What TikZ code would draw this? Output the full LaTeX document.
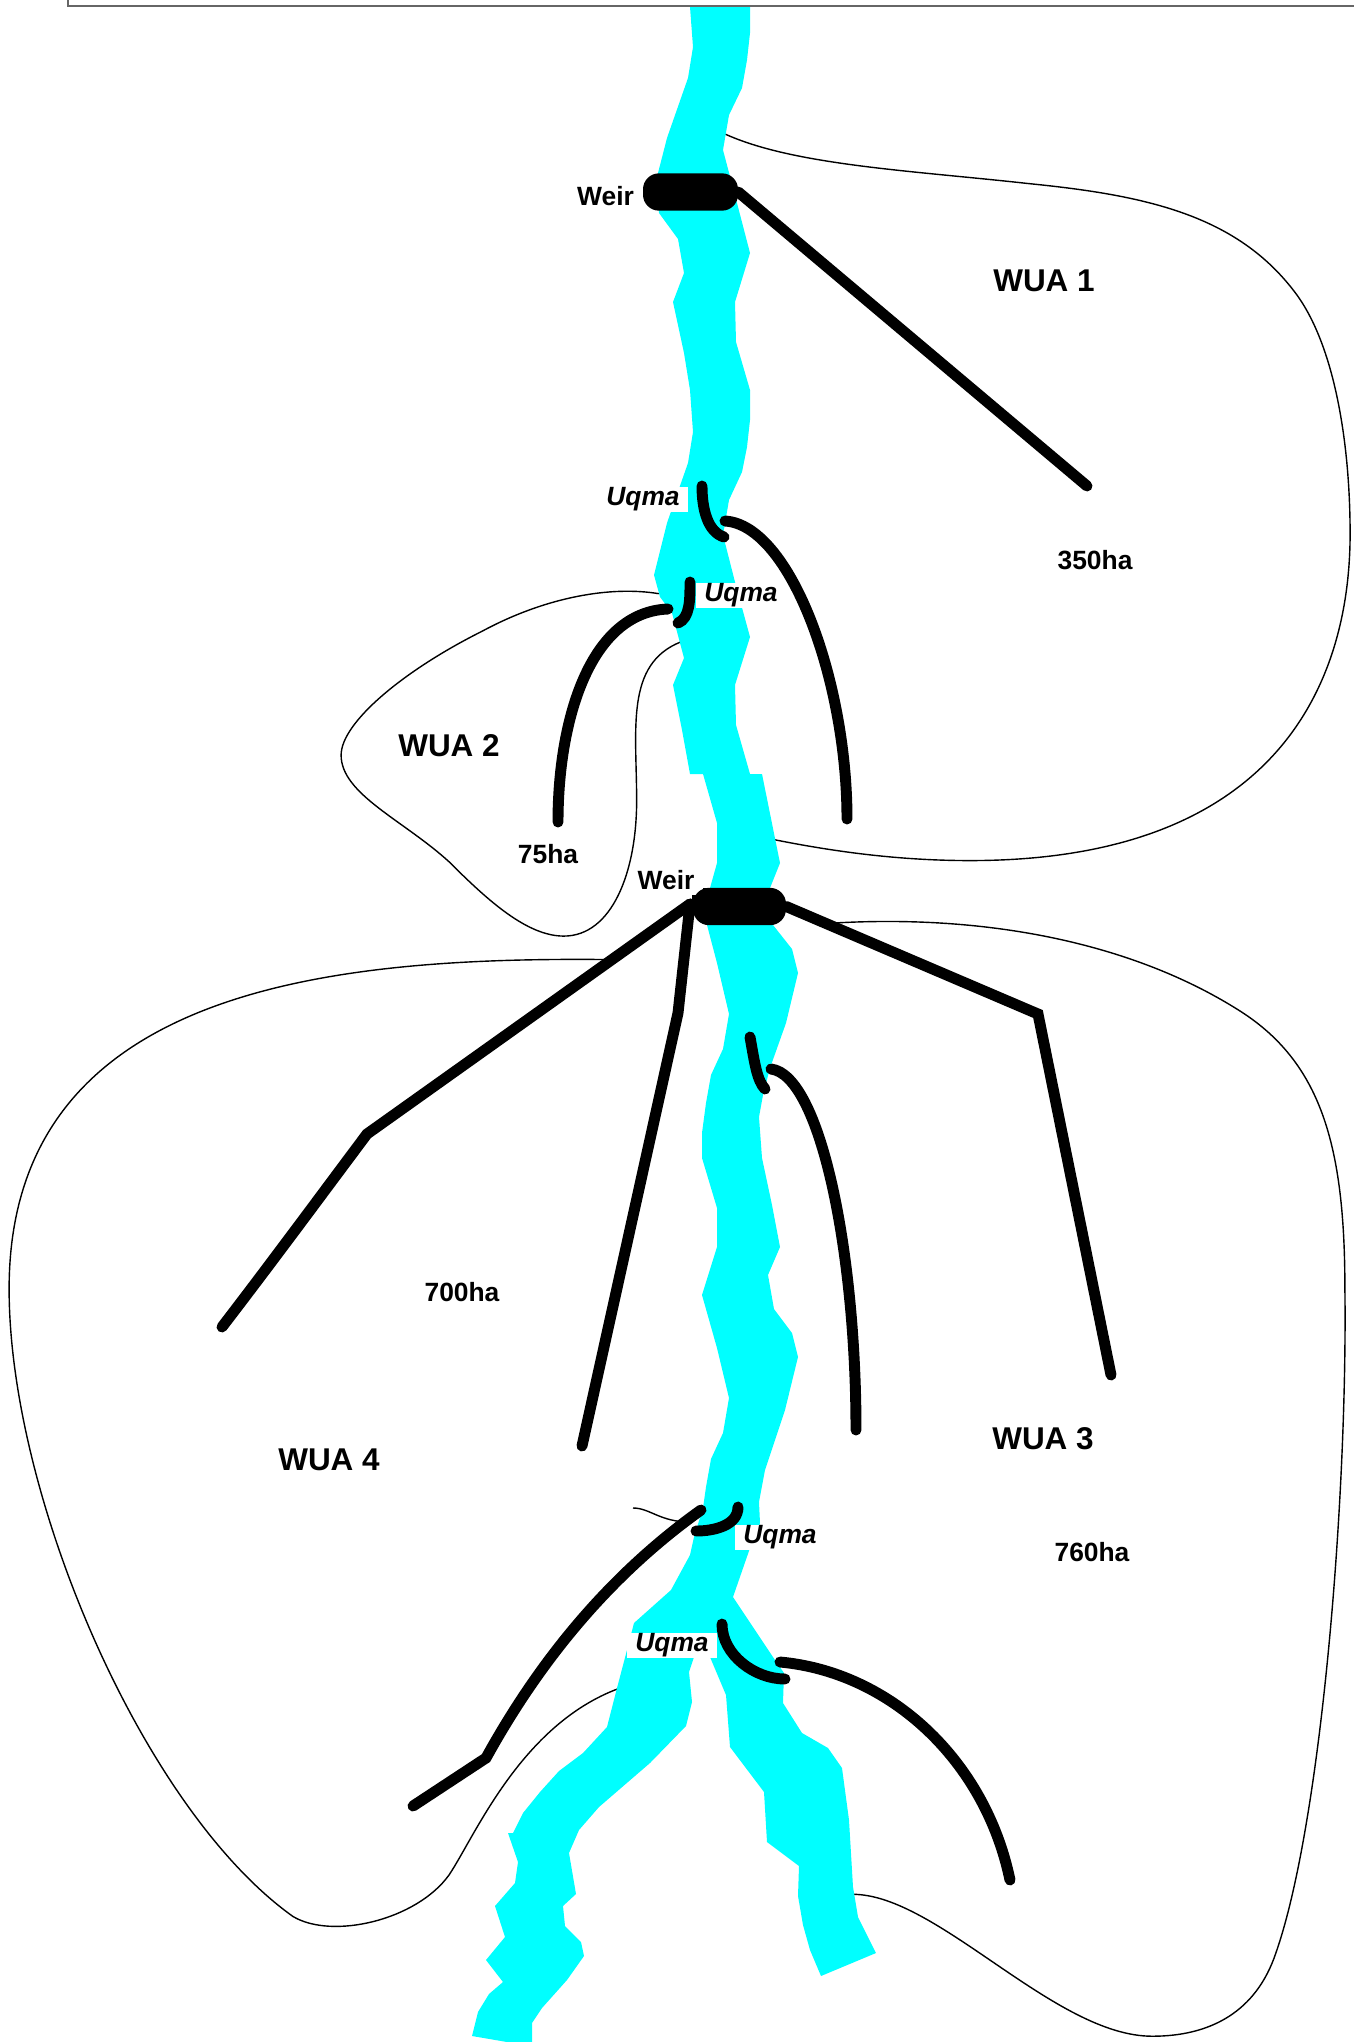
\documentclass[tikz,border=0pt]{standalone}
\usepackage{fontspec}
\setmainfont{Liberation Sans}
\definecolor{river}{HTML}{00FFFF}
\tikzset{
  riverpart/.style={fill=river,draw=none},
  outline/.style={draw=black,line width=1.05pt,line join=round},
  canal/.style={draw=black,line width=8.2pt,line cap=round,line join=miter},
  weirbox/.style={fill=black,rectangle,rounded corners=12pt,inner sep=0pt,minimum height=28pt},
  smalllabel/.style={font=\bfseries\fontsize{19.8}{24}\selectfont,inner sep=0pt},
  biglabel/.style={font=\bfseries\fontsize{23.6}{28}\selectfont,inner sep=0pt},
  uqmalabel/.style={font=\bfseries\itshape\fontsize{19.8}{24}\selectfont,fill=white,inner sep=0pt,minimum width=67.5pt,minimum height=18.75pt},
}
\begin{document}
\begin{tikzpicture}[x=0.75pt,y=-0.75pt]
\useasboundingbox (0,0) rectangle (1354,2042);
\fill[white] (0,0) rectangle (1354,2042);
% frame at top
\draw[draw=black!60,line width=0.9pt] (68,0) -- (68,6) -- (1354,6);
% area outlines
\begin{scope}[scale=1.30192]
\draw[outline] (557,103) .. controls (610,127) and (700,131) .. (790,141)
  .. controls (880,150) and (950,165) .. (995,225)
  .. controls (1025,265) and (1037,340) .. (1037,410)
  .. controls (1037,520) and (985,661) .. (745,661)
  .. controls (690,661) and (640,654) .. (595,645);
\draw[outline] (506,456) .. controls (470,450) and (420,458) .. (370,485)
  .. controls (310,515) and (262,555) .. (262,580)
  .. controls (262,610) and (310,630) .. (345,662)
  .. controls (375,692) and (405,719) .. (433,719)
  .. controls (470,719) and (489,670) .. (489,615)
  .. controls (489,560) and (480,510) .. (523,493);
\draw[outline] (640,709) .. controls (760,702) and (870,725) .. (950,775)
  .. controls (1015,815) and (1033,880) .. (1033,990)
  .. controls (1035,1150) and (1015,1400) .. (980,1500)
  .. controls (965,1545) and (930,1564) .. (885,1564)
  .. controls (810,1564) and (720,1455) .. (655,1455);
\draw[outline] (465,737) .. controls (250,735) and (7,760) .. (7,990)
  .. controls (7,1150) and (110,1390) .. (225,1472)
  .. controls (255,1490) and (320,1475) .. (345,1440)
  .. controls (365,1410) and (400,1325) .. (475,1297);
\end{scope}
\draw[outline] (633,1508) .. controls (650,1508) and (660,1522) .. (690,1522);
% river
\fill[riverpart] (690,7) -- (693,47) -- (688,78) -- (667,138) -- (658,173) -- (659,213) -- (678,239) -- (684,273) -- (673,302) -- (684,353) -- (690,390)
  -- (750,390) -- (736,342) -- (735,302) -- (750,253) -- (737,203) -- (723,150) -- (729,115) -- (742,88) -- (747,60) -- (750,33) -- (750,7) -- cycle;
\fill[riverpart] (690,390) -- (693,432) -- (688,463) -- (667,523) -- (654,575) -- (660,597) -- (672,613) -- (684,658) -- (673,685) -- (682,730) -- (690,774)
  -- (750,774) -- (736,725) -- (735,685) -- (750,637) -- (735,582) -- (723,535) -- (729,500) -- (742,472) -- (747,447) -- (750,420) -- (750,390) -- cycle;
\fill[riverpart] (703,774) -- (717,823) -- (717,863) -- (710,888) -- (707,925) -- (717,963) -- (729,1014) -- (723,1049) -- (711,1075) -- (706,1103) -- (702,1133) -- (702,1158)
  -- (762,1158) -- (759,1117) -- (763,1095) -- (770,1068) -- (786,1023) -- (798,973) -- (792,949) -- (773,925) -- (770,888) -- (780,863) -- (762,774) -- cycle;
\fill[riverpart] (702,1158) -- (717,1208) -- (717,1247) -- (702,1295) -- (717,1348) -- (729,1398) -- (723,1433) -- (711,1459) -- (706,1487) -- (703,1508) -- (694,1537) -- (690,1555) -- (671,1590) -- (634,1623) -- (627,1650) -- (617,1688) -- (607,1727) -- (583,1753) -- (559,1771) -- (540,1792) -- (523,1813) -- (513,1833) -- (508,1833) -- (518,1862) -- (515,1883) -- (495,1906) -- (505,1937) -- (486,1960) -- (503,1982) -- (489,1994) -- (478,2012) -- (472,2036) -- (507,2042) -- (532,2042) -- (532,2023) -- (542,2008) -- (567,1980) -- (584,1956) -- (581,1942) -- (565,1926) -- (563,1906) -- (576,1894) -- (569,1853) -- (579,1830) -- (599,1807) -- (650,1763) -- (686,1726) -- (692,1702) -- (689,1672) -- (694,1657) -- (710,1657) -- (726,1695) -- (730,1747) -- (764,1792) -- (767,1842) -- (799,1866) -- (798,1896) -- (803,1925) -- (810,1950) -- (821,1976) -- (876,1953) -- (858,1917) -- (853,1887) -- (849,1820) -- (842,1768) -- (828,1748) -- (802,1733) -- (783,1703) -- (784,1673) -- (775,1660) -- (733,1597) -- (750,1548) -- (760,1523) -- (759,1502) -- (765,1470) -- (785,1410) -- (798,1357) -- (792,1333) -- (774,1309) -- (768,1275) -- (780,1247) -- (772,1205) -- (762,1158) -- cycle;
% label boxes
\node[uqmalabel] (uqmaA) at (643,499.5) {Uqma};
\node[uqmalabel] (uqmaB) at (741,595.5) {Uqma};
\node[uqmalabel] (uqmaC) at (780,1537.5) {Uqma};
\node[uqmalabel] (uqmaD) at (672,1645.5) {Uqma};
% structures
\node[weirbox,minimum width=71.25pt] (weirA) at (690.5,192) {};
\node[weirbox,minimum width=69.75pt] (weirB) at (739.5,906.5) {};
\fill (703,888) rectangle (725,900) (692,895) rectangle (712,905);
% canal ends
\coordinate (a1) at (1087,486);
\coordinate (gA0) at (702,486); \coordinate (gA1) at (724,537);
\coordinate (cA0) at (725,521); \coordinate (cA1) at (847,819);
\coordinate (gB0) at (690,582); \coordinate (gB1) at (678,623);
\coordinate (cB0) at (668,609); \coordinate (cB1) at (558,822);
\coordinate (wl) at (690,904);
\coordinate (c1) at (367,1134); \coordinate (c2) at (222,1327);
\coordinate (d1) at (678,1013); \coordinate (d2) at (582,1446);
\coordinate (e1) at (1038,1014); \coordinate (e2) at (1111,1375);
\coordinate (gC0) at (750,1037); \coordinate (gC1) at (765,1089);
\coordinate (cF0) at (771,1069); \coordinate (cF1) at (856,1430);
\coordinate (gD0) at (738,1507); \coordinate (gD1) at (696,1531);
\coordinate (cG0) at (701,1510); \coordinate (cG1) at (486,1758); \coordinate (cG2) at (413,1806);
\coordinate (gE0) at (722,1624); \coordinate (gE1) at (785,1679);
\coordinate (cH0) at (780,1662); \coordinate (cH1) at (1010,1880);
% canals
\draw[canal] (weirA.east) -- (a1);
\draw[canal] (gA0) .. controls (702,510) and (708,532) .. (gA1);
\draw[canal] (cA0) .. controls (790,525) and (847,680) .. (cA1);
\draw[canal] (gB0) .. controls (690,600) and (690,618) .. (gB1);
\draw[canal] (cB0) .. controls (590,612) and (558,720) .. (cB1);
\draw[canal] (wl) -- (c1) .. controls (325,1190) and (275,1258) .. (c2);
\draw[canal] (wl) -- (d1) -- (d2);
\draw[canal] (weirB.east) -- (e1) -- (e2);
\draw[canal] (gC0) .. controls (755,1065) and (757,1080) .. (gC1);
\draw[canal] (cF0) .. controls (820,1075) and (856,1250) .. (cF1);
\draw[canal] (gD0) .. controls (738,1525) and (715,1531) .. (gD1);
\draw[canal] (cG0) .. controls (610,1575) and (540,1660) .. (cG1) -- (cG2);
\draw[canal] (gE0) .. controls (722,1655) and (755,1679) .. (gE1);
\draw[canal] (cH0) .. controls (890,1672) and (985,1760) .. (cH1);
% labels
\node[smalllabel] (weirAl) at (605.5,196) {Weir};
\node[smalllabel] (weirBl) at (666,880.5) {Weir};
\node[biglabel] (wua1) at (1044,281) {WUA 1};
\node[biglabel] (wua2) at (449,746) {WUA 2};
\node[biglabel] (wua3) at (1043,1439) {WUA 3};
\node[biglabel] (wua4) at (329,1460) {WUA 4};
\node[smalllabel] (ha350) at (1095,560) {350ha};
\node[smalllabel] (ha75) at (548,854) {75ha};
\node[smalllabel] (ha700) at (462,1292) {700ha};
\node[smalllabel] (ha760) at (1092,1552) {760ha};
\end{tikzpicture}
\end{document}
